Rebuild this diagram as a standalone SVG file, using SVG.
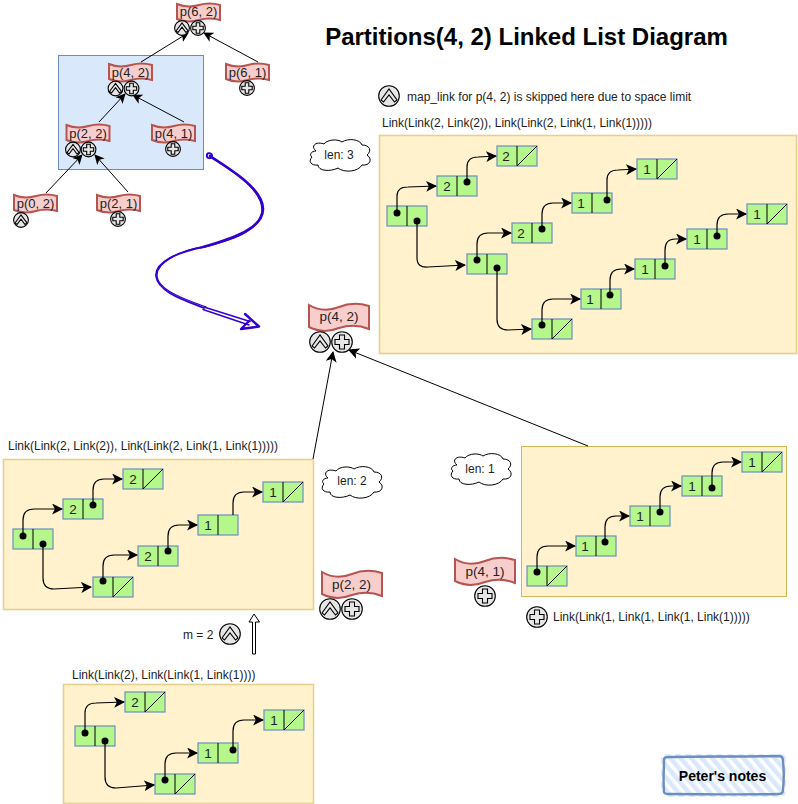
<svg xmlns="http://www.w3.org/2000/svg" xmlns:xlink="http://www.w3.org/1999/xlink" width="798" height="804" viewBox="0 0 798 804">
<style>
text{font-family:"Liberation Sans",Arial,sans-serif;fill:#222}
.title{font-size:24px;font-weight:bold;fill:#000;text-anchor:middle}
.lbl{font-size:12px}
.mid{text-anchor:middle}
.d{font-size:13.5px;text-anchor:middle}
.s{font-size:13.5px;text-anchor:middle}
.b{font-size:13px;text-anchor:middle}
.panel{fill:#fff2cc;stroke:#e5d08f;stroke-width:1.6}
.panel2{fill:#fff2cc;stroke:#d6b656;stroke-width:1}
.c{fill:#b6f78c;stroke:#6c8ebf;stroke-width:1.2}
.l{fill:none;stroke:#000;stroke-width:1.2}
.a{fill:none;stroke:#000;stroke-width:1}
.dot{fill:#000}
.tape{fill:#f8cecc;stroke:#b85450;stroke-width:2}
.ic{fill:#e6e6e6;stroke:#000;stroke-width:1.1}
.gl{fill:none;stroke:#000;stroke-width:1.1}
.cloud{fill:#fff;stroke:#000;stroke-width:1}
.sk{fill:none;stroke:#3300cc;stroke-linecap:round;stroke-linejoin:round}
</style>
<defs>
<marker id="ah" viewBox="0 0 10 10" refX="9" refY="5" markerWidth="10" markerHeight="10" markerUnits="userSpaceOnUse" orient="auto"><path d="M0,0 L10,5 L0,10 L2.5,5 Z" fill="#000"/></marker>
<marker id="at" viewBox="0 0 10 10" refX="9" refY="5" markerWidth="11" markerHeight="11" markerUnits="userSpaceOnUse" orient="auto"><path d="M0,0 L10,5 L0,10 L2.5,5 Z" fill="#000"/></marker>
<pattern id="hatch" width="8" height="8" patternUnits="userSpaceOnUse" patternTransform="rotate(-40)"><rect width="4.5" height="8" fill="#dae8fc"/></pattern>
<g id="cell"><rect class="c" width="40" height="20"/><path class="a" d="M20,0V20"/></g>
<g id="nil"><rect class="c" width="40" height="20"/><path class="a" d="M20,0V20M20,20L40,0"/></g>
<g id="tl"><path class="tape" d="M0,1 C10,7 20,7 30,3 C40,-1 50,-1 60,2 V25 C50,21 40,21 30,24 C20,28 10,28 0,23 Z"/></g>
<g id="ts"><path class="tape" d="M0,1 C7,4 15,4 22,2 C29,0 36,0 43,2 V17 C36,15 29,15 22,17 C15,19 7,19 0,16 Z"/></g>
<g id="up"><circle class="ic" r="10.3"/><path class="gl" d="M-8,4 L0,-7 L8,4 L5.5,6 L0,-1 L-5.5,6 Z"/></g>
<g id="pl"><circle class="ic" r="10.3"/><path class="gl" d="M-2.5,-7 H2.5 V-2.5 H7 V2.5 H2.5 V7 H-2.5 V2.5 H-7 V-2.5 H-2.5 Z"/></g>
<g id="ups"><circle class="ic" r="7.4"/><path class="gl" d="M-6,3 L0,-5 L6,3 L4,4.5 L0,-0.8 L-4,4.5 Z"/></g>
<g id="pls"><circle class="ic" r="7.4"/><path class="gl" d="M-1.8,-5.2 H1.8 V-1.8 H5.2 V1.8 H1.8 V5.2 H-1.8 V1.8 H-5.2 V-1.8 H-1.8 Z"/></g>
<path id="cl" class="cloud" d="M8,12 C2,7 8,2 16,5 C20,0 30,0 34,3 C40,-1 52,0 54,6 C62,6 64,12 59,16 C65,20 62,27 54,26 C50,33 36,34 30,29 C22,33 10,32 10,26 C3,27 0,22 4,18 C1,16 3,12 8,12 Z"/>
</defs>

<text class="title" x="526.5" y="45">Partitions(4, 2) Linked List Diagram</text>

<rect id="hl" x="58.5" y="55.5" width="145" height="114" fill="#dae8fc" stroke="#6c8ebf"/>

<g id="connectors">
<path class="a" marker-end="url(#ah)" d="M141,62 L188,33"/>
<path class="a" marker-end="url(#ah)" d="M258,62 L204,33"/>
<path class="a" marker-end="url(#ah)" d="M99,122 L125,94"/>
<path class="a" marker-end="url(#ah)" d="M184,122 L133,95"/>
<path class="a" marker-end="url(#ah)" d="M46,193 L82,155"/>
<path class="a" marker-end="url(#ah)" d="M128,192 L95,155"/>
</g>

<g id="curve">
<path class="sk" stroke-width="2.6" d="M210,156 C235,172 263,190 263,209 C263,228 235,238 203,247"/>
<path class="sk" stroke-width="1.6" d="M212,158 C238,174 264,192 262,212 C258,232 232,240 200,248"/>
<path class="sk" stroke-width="1.8" d="M203,247 C178,252 155,262 156,276 C158,292 184,300 204,308"/>
<path class="sk" stroke-width="1.2" d="M201,247 C180,251 157,262 157,275 C157,290 186,300 206,307"/>
<path class="sk" stroke-width="1.4" d="M204,307 L250,321.5 M203,309.5 L249,325"/>
<path class="sk" stroke-width="2" d="M207,155 C207,152 212,153 212,156 C212,159 206,159 207,155 Z"/>
<path class="sk" stroke-width="2.4" d="M245,314 L259,326.5 L241,329 L249,321"/>
</g>

<g id="panel-top"><rect class="panel" x="379.5" y="135.5" width="417" height="218"/></g>
<g id="panel-left"><rect class="panel" x="3.5" y="459.5" width="310" height="150"/></g>
<g id="panel-right"><rect class="panel2" x="521.5" y="446.5" width="265" height="150"/></g>
<g id="panel-bottom"><rect class="panel" x="63.5" y="684.5" width="250" height="119"/></g>

<g id="lists">
<g id="t1"><use href="#cell" x="387" y="206"/></g>
<g id="t2"><use href="#cell" x="437" y="176"/><text class="d" x="447" y="191">2</text></g>
<g id="t3"><use href="#nil" x="497" y="146"/><text class="d" x="506" y="161">2</text></g>
<g id="t4"><use href="#cell" x="467" y="254"/></g>
<g id="t5"><use href="#cell" x="512" y="223"/><text class="d" x="521" y="238">2</text></g>
<g id="t6"><use href="#cell" x="572" y="193"/><text class="d" x="581" y="208">1</text></g>
<g id="t7"><use href="#nil" x="637" y="159"/><text class="d" x="647" y="174">1</text></g>
<g id="t8"><use href="#nil" x="532" y="319"/></g>
<g id="t9"><use href="#cell" x="581" y="289"/><text class="d" x="590" y="304">1</text></g>
<g id="t10"><use href="#cell" x="635" y="259"/><text class="d" x="645" y="274">1</text></g>
<g id="t11"><use href="#cell" x="687" y="229"/><text class="d" x="697" y="244">1</text></g>
<g id="t12"><use href="#nil" x="747" y="204"/><text class="d" x="757" y="219">1</text></g>

<g id="l1"><use href="#cell" x="13" y="529"/></g>
<g id="l2"><use href="#cell" x="63" y="499"/><text class="d" x="73" y="514">2</text></g>
<g id="l3"><use href="#nil" x="123" y="469"/><text class="d" x="133" y="484">2</text></g>
<g id="l4"><use href="#nil" x="93" y="577"/></g>
<g id="l5"><use href="#cell" x="138" y="546"/><text class="d" x="148" y="561">2</text></g>
<g id="l6"><use href="#cell" x="198" y="515"/><text class="d" x="208" y="530">1</text></g>
<g id="l7"><use href="#nil" x="263" y="482"/><text class="d" x="273" y="497">1</text></g>

<g id="r1"><use href="#nil" x="527" y="566"/></g>
<g id="r2"><use href="#cell" x="576" y="536"/><text class="d" x="585" y="551">1</text></g>
<g id="r3"><use href="#cell" x="630" y="506"/><text class="d" x="640" y="521">1</text></g>
<g id="r4"><use href="#cell" x="682" y="476"/><text class="d" x="692" y="491">1</text></g>
<g id="r5"><use href="#nil" x="742" y="452"/><text class="d" x="752" y="467">1</text></g>

<g id="b1"><use href="#cell" x="75" y="726"/></g>
<g id="b2"><use href="#nil" x="125" y="692"/><text class="d" x="135" y="707">2</text></g>
<g id="b3"><use href="#nil" x="155" y="774"/></g>
<g id="b4"><use href="#cell" x="198" y="743"/><text class="d" x="208" y="758">1</text></g>
<g id="b5"><use href="#nil" x="264" y="710"/><text class="d" x="274" y="725">1</text></g>
</g>

<g id="list-connectors">
<path class="l" marker-end="url(#at)" d="M397,213 V196 Q397,187 408,187 L436,186"/>
<path class="l" marker-end="url(#at)" d="M467,182 V167 Q467,157 478,157 L496,156"/>
<path class="l" marker-end="url(#at)" d="M417,221 V258 Q417,268 428,267 L465,265"/>
<path class="l" marker-end="url(#at)" d="M477,260 V244 Q477,233 488,233 L511,233"/>
<path class="l" marker-end="url(#at)" d="M542,229 V214 Q542,203 553,203 L571,203"/>
<path class="l" marker-end="url(#at)" d="M607,200 V180 Q607,170 618,170 L636,169"/>
<path class="l" marker-end="url(#at)" d="M497,268 V319 Q497,330 508,330 L531,329"/>
<path class="l" marker-end="url(#at)" d="M542,325 V310 Q542,299 553,299 L580,299"/>
<path class="l" marker-end="url(#at)" d="M610,295 V280 Q610,269 621,269 L634,269"/>
<path class="l" marker-end="url(#at)" d="M665,266 V250 Q665,239 675,239 L686,239"/>
<path class="l" marker-end="url(#at)" d="M717,236 V225 Q717,214 728,214 L746,214"/>

<path class="l" marker-end="url(#at)" d="M23,536 V520 Q23,509 34,509 L62,509"/>
<path class="l" marker-end="url(#at)" d="M93,505 V490 Q93,479 104,479 L122,479"/>
<path class="l" marker-end="url(#at)" d="M43,544 V578 Q43,589 54,589 L91,587"/>
<path class="l" marker-end="url(#at)" d="M103,581 V566 Q103,555 114,555 L137,555"/>
<path class="l" marker-end="url(#at)" d="M168,551 V536 Q168,525 179,525 L197,525"/>
<path class="l" marker-end="url(#at)" d="M233,515 V503 Q233,492 244,492 L262,492"/>

<path class="l" marker-end="url(#at)" d="M537,572 V557 Q537,546 548,546 L575,546"/>
<path class="l" marker-end="url(#at)" d="M605,542 V527 Q605,516 616,516 L629,516"/>
<path class="l" marker-end="url(#at)" d="M660,512 V497 Q660,486 671,486 L681,486"/>
<path class="l" marker-end="url(#at)" d="M712,488 V473 Q712,462 723,462 L741,462"/>

<path class="l" marker-end="url(#at)" d="M85,733 V713 Q85,703 96,703 L124,702"/>
<path class="l" marker-end="url(#at)" d="M105,741 V777 Q105,788 116,788 L154,785"/>
<path class="l" marker-end="url(#at)" d="M165,780 V764 Q165,753 176,753 L197,753"/>
<path class="l" marker-end="url(#at)" d="M233,750 V731 Q233,720 244,720 L263,720"/>

<path class="a" marker-end="url(#at)" d="M313,459 L333,352"/>
<path class="a" marker-end="url(#at)" d="M588,446 L349,350"/>
</g>

<g id="dots" class="dot">
<circle cx="397" cy="213" r="3.5"/><circle cx="417" cy="221" r="3.5"/><circle cx="467" cy="182" r="3.5"/>
<circle cx="477" cy="260" r="3.5"/><circle cx="497" cy="268" r="3.5"/><circle cx="542" cy="229" r="3.5"/>
<circle cx="607" cy="200" r="3.5"/><circle cx="542" cy="325" r="3.5"/><circle cx="610" cy="295" r="3.5"/>
<circle cx="665" cy="266" r="3.5"/><circle cx="717" cy="236" r="3.5"/>
<circle cx="23" cy="536" r="3.5"/><circle cx="43" cy="544" r="3.5"/><circle cx="93" cy="505" r="3.5"/>
<circle cx="103" cy="581" r="3.5"/><circle cx="168" cy="551" r="3.5"/>
<circle cx="537" cy="572" r="3.5"/><circle cx="605" cy="542" r="3.5"/><circle cx="660" cy="512" r="3.5"/><circle cx="712" cy="488" r="3.5"/>
<circle cx="85" cy="733" r="3.5"/><circle cx="105" cy="741" r="3.5"/><circle cx="165" cy="780" r="3.5"/><circle cx="233" cy="750" r="3.5"/>
</g>

<g id="node-p62"><use href="#ts" x="177" y="3"/><text class="b" x="198.5" y="16">p(6, 2)</text><use href="#ups" x="182" y="28"/><use href="#pls" x="198" y="28"/></g>
<g id="node-p61"><use href="#ts" x="226" y="63"/><text class="b" x="247.5" y="77">p(6, 1)</text><use href="#pls" x="247" y="88"/></g>
<g id="node-p42s"><use href="#ts" x="109" y="63"/><text class="b" x="130.5" y="77">p(4, 2)</text><use href="#ups" x="115.5" y="88.5"/><use href="#pls" x="131.5" y="88.5"/></g>
<g id="node-p22s"><use href="#ts" x="66.5" y="124"/><text class="b" x="88" y="137.5">p(2, 2)</text><use href="#ups" x="73" y="149.5"/><use href="#pls" x="88.5" y="149.5"/></g>
<g id="node-p41s"><use href="#ts" x="152" y="124"/><text class="b" x="173.5" y="137.5">p(4, 1)</text><use href="#pls" x="173" y="149"/></g>
<g id="node-p02"><use href="#ts" x="14" y="194"/><text class="b" x="35.5" y="207.5">p(0, 2)</text><use href="#ups" x="21" y="220"/></g>
<g id="node-p21"><use href="#ts" x="97" y="194"/><text class="b" x="118.5" y="207.5">p(2, 1)</text><use href="#pls" x="118" y="219"/></g>

<g id="node-p42"><use href="#tl" x="309" y="304"/><text class="s" x="339" y="321">p(4, 2)</text><use href="#up" x="320" y="342"/><use href="#pl" x="342" y="342"/></g>
<g id="node-p22"><use href="#tl" x="322" y="571"/><text class="s" x="351.5" y="589">p(2, 2)</text><use href="#up" x="330" y="609"/><use href="#pl" x="352" y="609"/></g>
<g id="node-p41"><use href="#tl" x="455" y="558"/><text class="s" x="485" y="576">p(4, 1)</text><use href="#pl" x="485" y="596"/></g>

<g id="len3"><use href="#cl" x="308" y="139"/><text class="lbl mid" x="339" y="159">len: 3</text></g>
<g id="len2"><use href="#cl" x="320" y="466"/><text class="lbl mid" x="352" y="485">len: 2</text></g>
<g id="len1"><use href="#cl" x="449" y="453"/><text class="lbl mid" x="480" y="473">len: 1</text></g>

<g id="labels">
<use href="#up" x="389" y="96"/>
<text class="lbl" x="407" y="101">map_link for p(4, 2) is skipped here due to space limit</text>
<text class="lbl" x="382" y="127">Link(Link(2, Link(2)), Link(Link(2, Link(1, Link(1)))))</text>
<text class="lbl" x="8" y="450">Link(Link(2, Link(2)), Link(Link(2, Link(1, Link(1)))))</text>
<text class="lbl" x="72" y="679">Link(Link(2), Link(Link(1, Link(1))))</text>
<use href="#pl" x="537" y="617"/>
<text class="lbl" x="553" y="621">Link(Link(1, Link(1, Link(1, Link(1)))))</text>
<text class="lbl" x="183" y="639">m = 2</text>
<use href="#up" x="230" y="634"/>
<path d="M252.5,654 V622 H249 L254,614 L259.5,622 H255.5 V654 Z" fill="#fff" stroke="#000"/>
</g>

<g id="notes">
<rect x="661" y="754" width="125" height="43" rx="5" fill="url(#hatch)"/>
<path d="M664,760 Q664,757 668,757 C700,756 740,757 779,756 Q783,756 783,761 C784,770 784,780 783,790 Q783,794 779,794 C740,795 700,794 668,794 Q663,794 664,790 C663,780 664,770 664,760 Z" fill="none" stroke="#6c8ebf" stroke-width="2.4"/>
<text x="722.5" y="781" font-size="14" font-weight="bold" text-anchor="middle" style="fill:#000">Peter's notes</text>
</g>
</svg>
